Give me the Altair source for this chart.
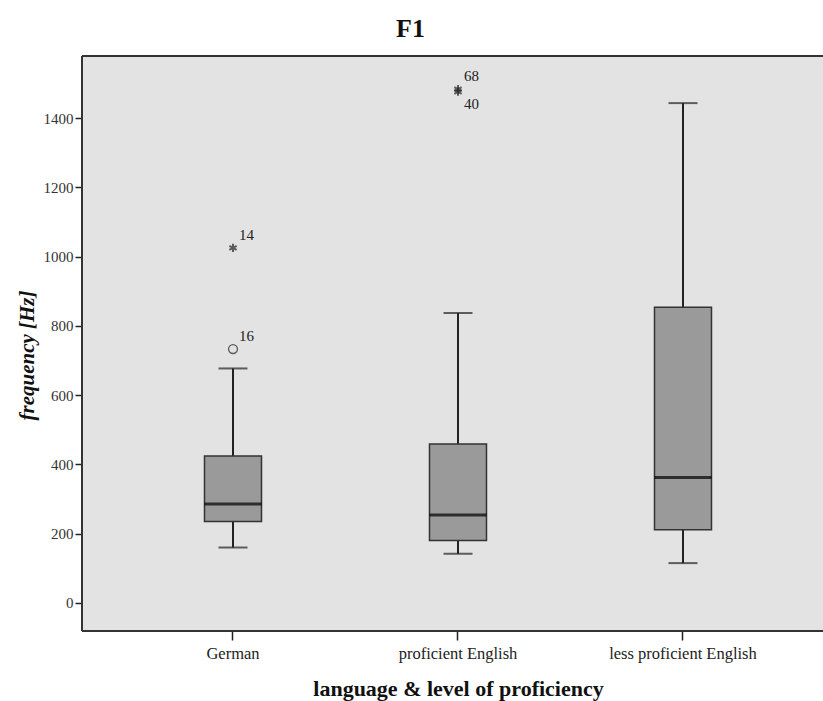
import altair as alt
import pandas as pd

# Summary statistics of F1 per speaker group
groups = ["German", "proficient English", "less proficient English"]
whisker_low = [160, 142, 115]
q1 = [235, 180, 211]
median = [286, 254, 362]
q3 = [424, 459, 854]
whisker_high = [677, 837, 1443]

# Outlying cases (circle = outlier, star = extreme value)
out_group = ["German", "German", "proficient English", "proficient English"]
out_value = [733, 1025, 1483, 1476]
out_kind = ["outlier", "extreme", "extreme", "extreme"]
out_case = ["16", "14", "68", "40"]
out_dy = [-14, -12, -14, 12]

SERIF = "Liberation Serif"
W, H = 741, 575

stats = pd.DataFrame({
    "group": groups, "low": whisker_low, "q1": q1, "median": median,
    "q3": q3, "high": whisker_high,
})
outs = pd.DataFrame({
    "group": out_group, "value": out_value, "kind": out_kind,
    "case": out_case, "dy": out_dy,
})

x_scale = alt.Scale(domain=groups, paddingInner=0, paddingOuter=0.14667, align=0.5833)
y_scale = alt.Scale(domain=[-81, 1579], nice=False, zero=False)

x = alt.X("group:N", scale=x_scale, sort=groups,
          axis=alt.Axis(title="language & level of proficiency", labelAngle=0,
                        domain=False, tickSize=9, tickColor="#222", tickWidth=1.5,
                        labelFont=SERIF, labelFontSize=16.5, labelColor="#222", labelPadding=5,
                        titleFont=SERIF, titleFontSize=22, titleFontWeight="bold",
                        titleColor="#111", titleX=376, titleY=57, titleBaseline="middle",
                        titleAlign="center"))
y_axis = alt.Axis(title="frequency [Hz]", values=list(range(0, 1401, 200)), format="d",
                  grid=False, domain=False, tickSize=7, tickColor="#222", tickWidth=1.5,
                  labelFont=SERIF, labelFontSize=15, labelColor="#333", labelPadding=2,
                  titleFont=SERIF, titleFontSize=21, titleFontWeight="bold",
                  titleFontStyle="italic", titleColor="#111", titleAngle=270,
                  titleX=-55, titleY=299, titleBaseline="middle", titleAlign="center")

base = alt.Chart(stats)

# Plot frame: top, left and bottom edges (the right edge runs off the page)
frame = base.mark_rule(color="#333", strokeWidth=2)
frame_top = frame.encode(x=alt.value(0), x2=alt.value(W), y=alt.value(0))
frame_bottom = frame.encode(x=alt.value(0), x2=alt.value(W), y=alt.value(H))
frame_left = frame.encode(x=alt.value(0), y=alt.value(0), y2=alt.value(H))

upper_whisker = base.mark_rule(color="#222", strokeWidth=2).encode(
    x=x, y=alt.Y("q3:Q", scale=y_scale, axis=y_axis), y2="high:Q")
lower_whisker = base.mark_rule(color="#222", strokeWidth=2).encode(
    x=x, y=alt.Y("low:Q", scale=y_scale), y2="q1:Q")
box = base.mark_bar(size=57, fill="#9a9a9a", stroke="#333", strokeWidth=1.5).encode(
    x=x, y=alt.Y("q1:Q", scale=y_scale), y2="q3:Q")
med = base.mark_tick(size=57, thickness=3, color="#000").encode(
    x=x, y=alt.Y("median:Q", scale=y_scale))
cap_hi = base.mark_tick(size=29, thickness=2, color="#222").encode(
    x=x, y=alt.Y("high:Q", scale=y_scale))
cap_lo = base.mark_tick(size=29, thickness=2, color="#222").encode(
    x=x, y=alt.Y("low:Q", scale=y_scale))

pts = alt.Chart(outs)
circles = pts.transform_filter(alt.datum.kind == "outlier").mark_point(
    shape="circle", size=80, filled=False, color="#222", strokeWidth=1.3).encode(
    x=x, y=alt.Y("value:Q", scale=y_scale))
stars = pts.transform_filter(alt.datum.kind == "extreme").mark_point(
    shape="M0,-1L0,1M-0.87,-0.5L0.87,0.5M-0.87,0.5L0.87,-0.5",
    size=70, filled=False, color="#222", strokeWidth=2).encode(
    x=x, y=alt.Y("value:Q", scale=y_scale))
labels_up = pts.transform_filter(alt.datum.dy < 0).mark_text(
    align="left", baseline="middle", dx=6, dy=-13, font=SERIF, fontSize=15, color="#222").encode(
    x=x, y=alt.Y("value:Q", scale=y_scale), text="case:N")
labels_dn = pts.transform_filter(alt.datum.dy > 0).mark_text(
    align="left", baseline="middle", dx=6, dy=12, font=SERIF, fontSize=15, color="#222").encode(
    x=x, y=alt.Y("value:Q", scale=y_scale), text="case:N")

chart = alt.layer(
    upper_whisker, lower_whisker, box, med, cap_hi, cap_lo,
    circles, stars, labels_up, labels_dn,
    frame_top, frame_bottom, frame_left,
).properties(
    width=W, height=H,
    autosize=alt.AutoSizeParams(type="none"),
    padding={"left": 82, "top": 56, "right": 0, "bottom": 70},
    background="white",
    title=alt.TitleParams("F1", font=SERIF, fontSize=26, fontWeight="bold",
                          color="#111", anchor="middle", dx=-42, offset=13),
).configure_view(
    fill="#e3e3e3", strokeOpacity=0,
)

chart.save("out.html", embed_options={"renderer": "svg", "actions": False})
